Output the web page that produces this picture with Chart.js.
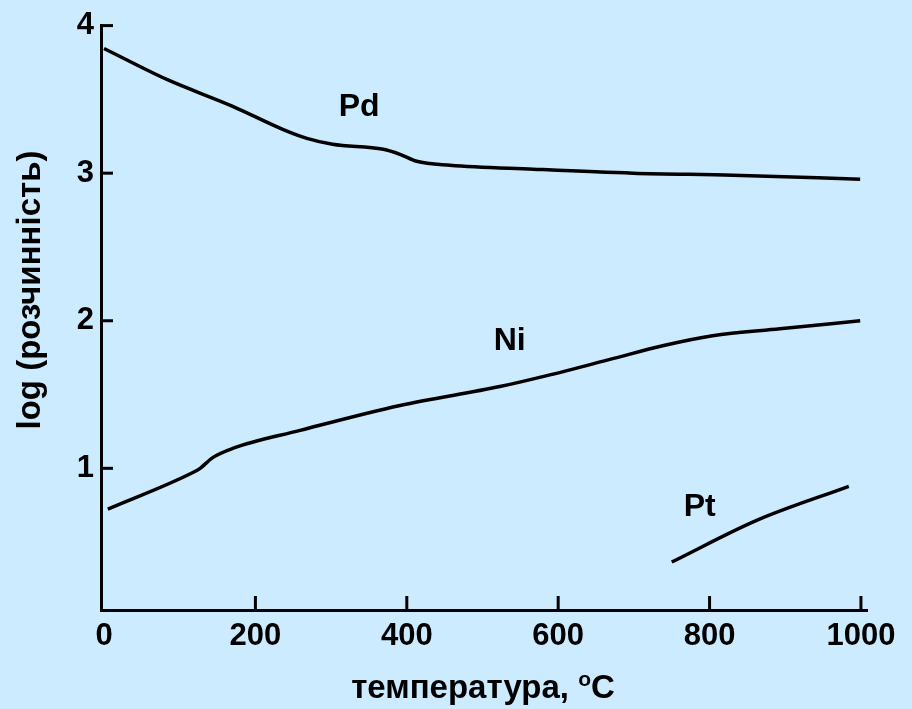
<!DOCTYPE html>
<html>
<head>
<meta charset="utf-8">
<script src="https://cdn.jsdelivr.net/npm/chart.js@4/dist/chart.umd.min.js"></script>
<style>
  html, body { margin: 0; padding: 0; background: rgb(204, 235, 255); }
  #wrap { width: 912px; height: 709px; }
</style>
</head>
<body>
<div id="wrap"><canvas id="chart"></canvas></div>
<script>
// значення: x - температура, y - log(розчинність)
var pdTemp = [0, 83, 170, 236, 268, 302, 369, 391, 413, 457, 567, 699, 831, 999];
var pdLog = [3.845, 3.635, 3.453, 3.297, 3.236, 3.196, 3.162, 3.128, 3.081, 3.054, 3.027, 3.0, 2.986, 2.959];

var niTemp = [5, 118, 127, 144, 170, 259, 391, 523, 585, 672, 738, 804, 893, 999];
var niLog = [0.723, 0.973, 1.0, 1.074, 1.135, 1.257, 1.426, 1.554, 1.628, 1.743, 1.831, 1.899, 1.946, 2.0];

var ptTemp = [750, 863, 984];
var ptLog = [0.365, 0.649, 0.878];

var xTicks = [0, 200, 400, 600, 800, 1000];
var yTicks = [1, 2, 3, 4];

// підписи кривих: [текст, x, y]
var curveLabels = [['Pd', 337, 3.45], ['Ni', 536, 1.865], ['Pt', 787, 0.74]];

function toPoints(xs, ys) {
  return xs.map(function(x, i) { return { x: x, y: ys[i] }; });
}

function lineSet(label, xs, ys) {
  return {
    label: label,
    data: toPoints(xs, ys),
    borderColor: '#000',
    borderWidth: 3.5,
    pointRadius: 0,
    fill: false,
    cubicInterpolationMode: 'monotone'
  };
}

var FONT = '"Liberation Sans", Arial, sans-serif';

// засічки всередину, назви осей і підписи кривих
var extras = {
  id: 'extras',
  afterDraw: function(chart) {
    var ctx = chart.ctx;
    var xs = chart.scales.x;
    var ys = chart.scales.y;
    var area = chart.chartArea;
    ctx.save();
    ctx.strokeStyle = '#000';
    ctx.lineWidth = 3;
    xTicks.forEach(function(v) {
      if (v === 0) return;
      var px = xs.getPixelForValue(v);
      ctx.beginPath();
      ctx.moveTo(px, area.bottom);
      ctx.lineTo(px, area.bottom - 14);
      ctx.stroke();
    });
    yTicks.forEach(function(v) {
      var py = ys.getPixelForValue(v);
      ctx.beginPath();
      ctx.moveTo(area.left, py);
      ctx.lineTo(area.left + 12, py);
      ctx.stroke();
    });

    ctx.fillStyle = '#000';
    ctx.textBaseline = 'middle';
    ctx.textAlign = 'center';
    ctx.font = 'bold 32px ' + FONT;
    curveLabels.forEach(function(l) {
      ctx.fillText(l[0], xs.getPixelForValue(l[1]), ys.getPixelForValue(l[2]));
    });

    // назва осі x з верхнім індексом
    ctx.textBaseline = 'alphabetic';
    ctx.textAlign = 'left';
    var big = 'bold 33px ' + FONT, small = 'bold 21px ' + FONT;
    var t1 = 'температура, ', t2 = 'o', t3 = 'C';
    ctx.font = big;
    var w1 = ctx.measureText(t1).width;
    var w3 = ctx.measureText(t3).width;
    ctx.font = small;
    var w2 = ctx.measureText(t2).width;
    var start = 483 - (w1 + w2 + w3) / 2;
    ctx.font = big;
    ctx.fillText(t1, start, 698);
    ctx.font = small;
    ctx.fillText(t2, start + w1, 686);
    ctx.font = big;
    ctx.fillText(t3, start + w1 + w2, 698);

    // назва осі y
    ctx.translate(31, 290);
    ctx.rotate(-Math.PI / 2);
    ctx.textAlign = 'center';
    ctx.textBaseline = 'middle';
    ctx.font = big;
    ctx.fillText('log (розчинність)', 0, 0);
    ctx.restore();
  }
};

var chart = new Chart(document.getElementById('chart'), {
  type: 'line',
  data: {
    datasets: [
      lineSet('Pd', pdTemp, pdLog),
      lineSet('Ni', niTemp, niLog),
      lineSet('Pt', ptTemp, ptLog)
    ]
  },
  options: {
    responsive: true,
    maintainAspectRatio: false,
    animation: false,
    layout: { padding: { top: 24, right: 45, left: 0, bottom: 0 } },
    plugins: {
      legend: { display: false },
      tooltip: { enabled: false }
    },
    scales: {
      x: {
        type: 'linear',
        min: -4,
        max: 1008,
        afterBuildTicks: function(scale) {
          scale.ticks = xTicks.map(function(v) { return { value: v }; });
        },
        afterFit: function(scale) { scale.height = 99; },
        grid: { display: false, drawTicks: false },
        border: { color: '#000', width: 3 },
        ticks: {
          color: '#000',
          padding: 8,
          maxRotation: 0,
          autoSkip: false,
          callback: function(v) { return String(v); },
          font: { family: FONT, size: 31, weight: 'bold' }
        }
      },
      y: {
        type: 'linear',
        min: 0.04,
        max: 4,
        afterBuildTicks: function(scale) {
          scale.ticks = yTicks.map(function(v) { return { value: v }; });
        },
        afterFit: function(scale) { scale.width = 101; },
        grid: { display: false, drawTicks: false },
        border: { color: '#000', width: 3 },
        ticks: {
          color: '#000',
          padding: 7,
          callback: function(v) { return String(v); },
          font: { family: FONT, size: 31, weight: 'bold' }
        }
      }
    }
  },
  plugins: [extras]
});
</script>
</body>
</html>
